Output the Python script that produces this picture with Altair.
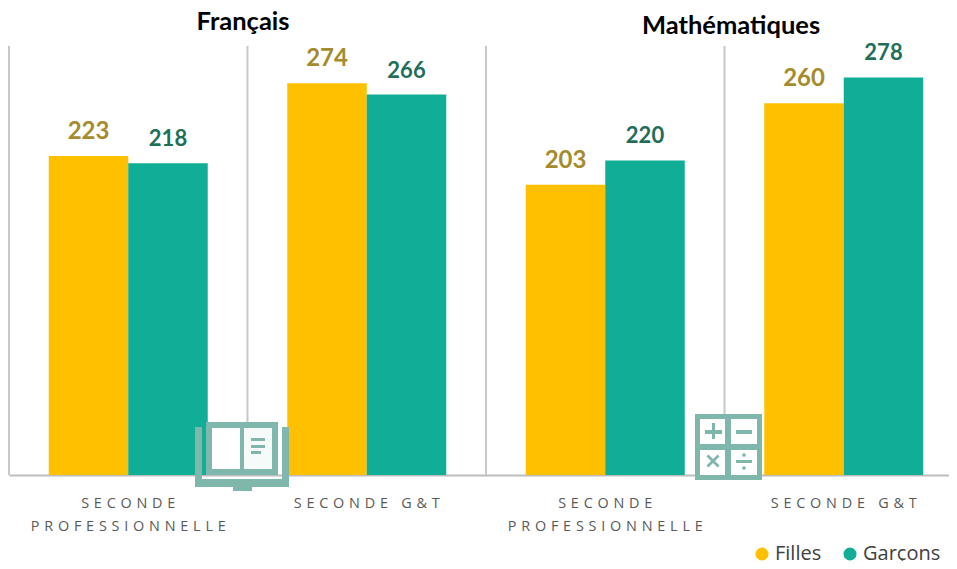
import altair as alt
import pandas as pd

panels = ["Français", "Français", "Mathématiques", "Mathématiques"]
categories = ["SECONDE\nPROFESSIONNELLE", "SECONDE G&T", "SECONDE\nPROFESSIONNELLE", "SECONDE G&T"]
filles = [223, 274, 203, 260]
garcons = [218, 266, 220, 278]
titles = ["Français", "Mathématiques"]
series = ["Filles", "Garçons"]

YELLOW, TEAL = "#FFC000", "#10AE96"
ICON = "#7FB7AD"
HS = "\u2004"


def spaced(s):
    return "\n".join(HS.join(part) for part in s.split("\n"))


keys = [f"{i}|{spaced(c)}" for i, c in enumerate(categories)]
rows = []
for k, f, g in zip(keys, filles, garcons):
    rows.append({"key": k, "sexe": "Filles", "v": f})
    rows.append({"key": k, "sexe": "Garçons", "v": g})
df = pd.DataFrame(rows)

xscale = alt.Scale(domain=keys, range=[0, 954], paddingInner=0, paddingOuter=0)
xaxis = alt.Axis(
    labelExpr="split(split(datum.label,'|')[1],'\\n')", labelAngle=0, ticks=False,
    labelFont="Open Sans", labelFontSize=14.4, labelColor="#595959", labelLineHeight=23,
    labelPadding=28, labelBaseline="middle", labelLimit=0, domainColor="#BDBDBD", domainWidth=2,
    grid=False)
x = alt.X("key:N", scale=xscale, title=None, sort=keys, axis=xaxis)
xo = alt.XOffset("sexe:N", sort=series, scale=alt.Scale(paddingInner=0, paddingOuter=0.5))
y = alt.Y("v:Q", scale=alt.Scale(domain=[0, 300]), axis=None)

rules = alt.Chart(pd.DataFrame({"key": keys})).mark_rule(color="#C8C8C8", strokeWidth=2).encode(
    x=alt.X("key:N", scale=xscale, sort=keys, bandPosition=0, title=None, axis=xaxis),
    y=alt.value(0), y2=alt.value(429))

bars = alt.Chart(df).mark_bar(stroke=None).encode(
    x=x, xOffset=xo, y=y,
    color=alt.Color("sexe:N", scale=alt.Scale(domain=series, range=[YELLOW, TEAL]), legend=alt.Legend(
        title=None, orient="none", legendX=743, legendY=498, direction="horizontal", symbolType="circle",
        symbolSize=170, labelFont="Open Sans", labelFontSize=20, labelColor="#404040", columnPadding=18,
        symbolOpacity=1, labelOffset=3)))


def values(name, color, size):
    return alt.Chart(df).transform_filter(alt.datum.sexe == name).mark_text(
        baseline="bottom", dy=-12, font="Lato", fontWeight="bold", fontSize=size, color=color
    ).encode(x=x, xOffset=xo, y=y, text="v:Q")


def rect(x0, y0, x1, y1, color=ICON, opacity=1):
    return alt.Chart(pd.DataFrame({"a": [0]})).mark_rect(color=color, opacity=opacity).encode(
        x=alt.value(x0 - 9), x2=alt.value(x1 - 9), y=alt.value(y0 - 46), y2=alt.value(y1 - 46))


def glyph(cx, cy, shape, size):
    return alt.Chart(pd.DataFrame({"a": [0]})).mark_point(
        shape=shape, filled=True, color=ICON, size=size, opacity=1, strokeWidth=0
    ).encode(x=alt.value(cx - 9), y=alt.value(cy - 46))


def title(t, cx, cy):
    return alt.Chart(pd.DataFrame({"t": [t]})).mark_text(
        font="Lato", fontWeight="bold", fontSize=25.5, color="#000000", baseline="middle"
    ).encode(x=alt.value(cx - 9), y=alt.value(cy - 46), text="t:N")


TIMES = "M-1,-0.7L-0.7,-1L0,-0.3L0.7,-1L1,-0.7L0.3,0L1,0.7L0.7,1L0,0.3L-0.7,1L-1,0.7L-0.3,0Z"

book = [
    rect(206, 422, 278, 475),
    rect(212, 428, 240, 469, "white"),
    rect(244, 428, 272, 469, "white", 0.93),
    rect(251, 438, 265, 441), rect(251, 445, 265, 448), rect(251, 451, 261, 454),
    rect(195, 427, 202, 487), rect(282, 427, 289, 487), rect(195, 479, 289, 487),
    rect(233, 487, 252, 491),
]
calc = [
    rect(695, 414, 762, 480),
    rect(700, 419, 725, 444, "white"), rect(731, 419, 757, 444, "white"),
    rect(700, 450, 725, 475, "white"), rect(731, 450, 757, 475, "white"),
    rect(705, 430, 722, 434), rect(712, 423, 715, 439), rect(736, 430, 752, 434),
    rect(736, 460, 752, 463),
    glyph(713, 461, TIMES, 170), glyph(744, 455, "circle", 14), glyph(744, 468, "circle", 14),
]

chart = alt.layer(
    rules, bars, values("Filles", "#A58B2C", 24), values("Garçons", "#1E6E5A", 22),
    title(titles[0], 243, 22), title(titles[1], 731, 26), *book, *calc
).properties(
    width=940, height=429, padding={"left": 1, "top": 38, "right": 0, "bottom": 86},
    autosize=alt.AutoSizeParams(type="none"), background="white"
).configure_view(stroke=None)

chart.save("out.html", embed_options={"renderer": "svg", "actions": False})
